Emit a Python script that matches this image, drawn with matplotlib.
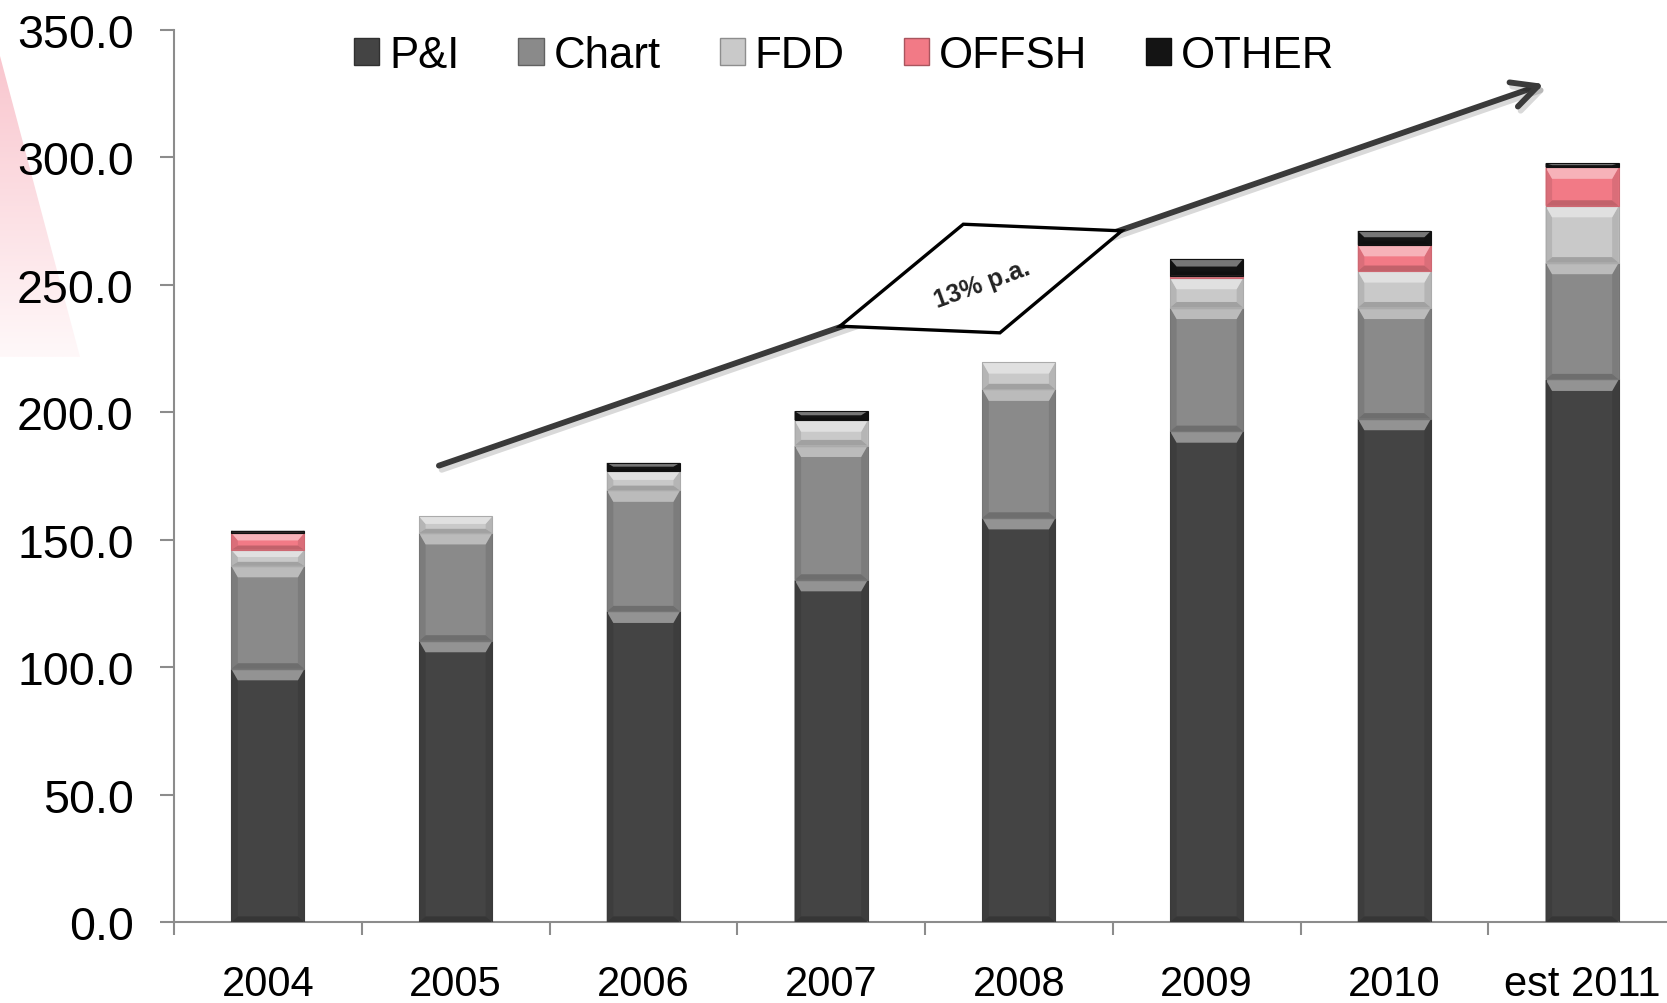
import matplotlib as mpl
mpl.use('Agg')
import numpy as np
import matplotlib.pyplot as plt
import matplotlib.colors as mcolors
import matplotlib.patheffects as pe
from matplotlib.patches import Polygon, Patch

plt.rcParams['font.family'] = ['Liberation Sans', 'DejaVu Sans']

years = ['2004', '2005', '2006', '2007', '2008', '2009', '2010', 'est 2011']
p_and_i = [99.3, 110.3, 121.8, 134.2, 158.5, 192.5, 197.4, 212.8]
chart = [40.4, 42.3, 47.5, 52.7, 50.4, 48.5, 43.6, 45.8]
fdd = [6.3, 6.5, 7.5, 9.9, 10.7, 11.7, 14.3, 22.3]
offsh = [6.7, 0.0, 0.0, 0.0, 0.0, 0.8, 10.3, 15.1]
other = [0.8, 0.0, 3.3, 3.6, 0.0, 6.6, 5.5, 1.6]

series = [('P&I', p_and_i, '#444444'),
          ('Chart', chart, '#8a8a8a'),
          ('FDD', fdd, '#c9c9c9'),
          ('OFFSH', offsh, '#f27a86'),
          ('OTHER', other, '#141414')]

W, H = 1667, 1004
fig = plt.figure(figsize=(W / 100, H / 100), dpi=100)

# pink wedge in the slide background
bg = fig.add_axes([0, 0, 1, 1], zorder=-1)
bg.set_xlim(0, W)
bg.set_ylim(H, 0)
bg.axis('off')
wedge = Polygon([(0, 57), (80, 358), (0, 358)], closed=True, fc='none', ec='none')
bg.add_patch(wedge)
grad = np.linspace(0, 1, 256).reshape(-1, 1)
pink = mcolors.LinearSegmentedColormap.from_list('pk', ['#f9c6ce', '#fff8f9'])
img = bg.imshow(grad, cmap=pink, extent=(0, 80, 358, 57), aspect='auto')
img.set_clip_path(wedge)

ax = fig.add_axes([174 / W, 81 / H, 1502 / W, 892.3 / H])
ax.patch.set_alpha(0)


def bevel(ax, rect, base):
    """fake the bevelled look of the bars"""
    x, y, w, h = rect.get_x(), rect.get_y(), rect.get_width(), rect.get_height()
    if h <= 0:
        return
    dx = 0.035
    dyt = min(4.5, h / 2.2)
    dyb = min(2.2, h / 4)
    rgb = np.array(mcolors.to_rgb(base))
    light = rgb + (1 - rgb) * 0.42
    side = rgb * 0.9
    dark = rgb * 0.8
    top = [(x, y + h), (x + w, y + h), (x + w - dx, y + h - dyt), (x + dx, y + h - dyt)]
    bot = [(x, y), (x + w, y), (x + w - dx, y + dyb), (x + dx, y + dyb)]
    left = [(x, y), (x + dx, y + dyb), (x + dx, y + h - dyt), (x, y + h)]
    right = [(x + w, y), (x + w - dx, y + dyb), (x + w - dx, y + h - dyt), (x + w, y + h)]
    for pts, c in ((left, side), (right, side), (bot, dark), (top, light)):
        ax.add_patch(Polygon(pts, closed=True, fc=c, ec='none', zorder=3))
    ax.add_patch(Polygon([(x, y), (x + w, y), (x + w, y + h), (x, y + h)], closed=True,
                         fc='none', ec=rgb * 0.85, lw=0.8, zorder=3))


ind = np.arange(len(years))
width = 0.39
bottom = np.zeros(len(years))
handles = []
for name, vals, col in series:
    vals = np.array(vals)
    rects = ax.bar(ind, vals, width, bottom=bottom, color=col, zorder=2)
    for r in rects:
        bevel(ax, r, col)
    bottom += vals
    handles.append(Patch(fc=col, ec=np.array(mcolors.to_rgb(col)) * 0.7, lw=1, label=name))

ax.set_xlim(-0.5, len(years) - 0.5)
ax.set_ylim(0, 350)
ax.set_yticks(np.arange(0, 351, 50))
ax.set_yticklabels(['%.1f' % v for v in np.arange(0, 351, 50)])
ax.set_xticks(ind)
ax.set_xticklabels(years)
ax.set_xticks(np.arange(-0.5, len(years), 1), minor=True)

for s in ['top', 'right']:
    ax.spines[s].set_visible(False)
for s in ['left', 'bottom']:
    ax.spines[s].set_color('#8c8c8c')
    ax.spines[s].set_linewidth(1.5)

ax.tick_params(axis='y', length=10, width=1.5, color='#8c8c8c', pad=19, labelsize=33.5)
ax.tick_params(axis='x', which='major', length=0, pad=30, labelsize=30)
ax.tick_params(axis='x', which='minor', length=9.5, width=1.5, color='#8c8c8c')

# growth arrow with the 13% box
ax.annotate('', xy=(6.797, 328.7), xytext=(0.911, 179.0),
            arrowprops=dict(arrowstyle='->', lw=4.2, color='#3a3a3a', mutation_scale=46,
                            shrinkA=0, shrinkB=0, capstyle='round',
                            path_effects=[pe.SimpleLineShadow(offset=(2, -3), alpha=0.15),
                                          pe.Normal()]),
            zorder=5)
box = Polygon([(3.047, 233.7), (3.704, 273.7), (4.548, 271.1), (3.899, 231.1)], closed=True,
              fc='white', ec='black', lw=2.4, zorder=6)
ax.add_patch(box)
ax.text(3.803, 250.5, '13% p.a.', rotation=20, ha='center', va='center',
        fontsize=18, fontweight='bold', color='#222222', zorder=7)

fig.legend(handles=handles, loc='center', bbox_to_anchor=(0.5064, 0.944), ncol=5,
           frameon=False, fontsize=31.5, handlelength=0.58, handleheight=0.58,
           handletextpad=0.22, columnspacing=1.35, borderaxespad=0)

fig.savefig('out.png', dpi=100)
